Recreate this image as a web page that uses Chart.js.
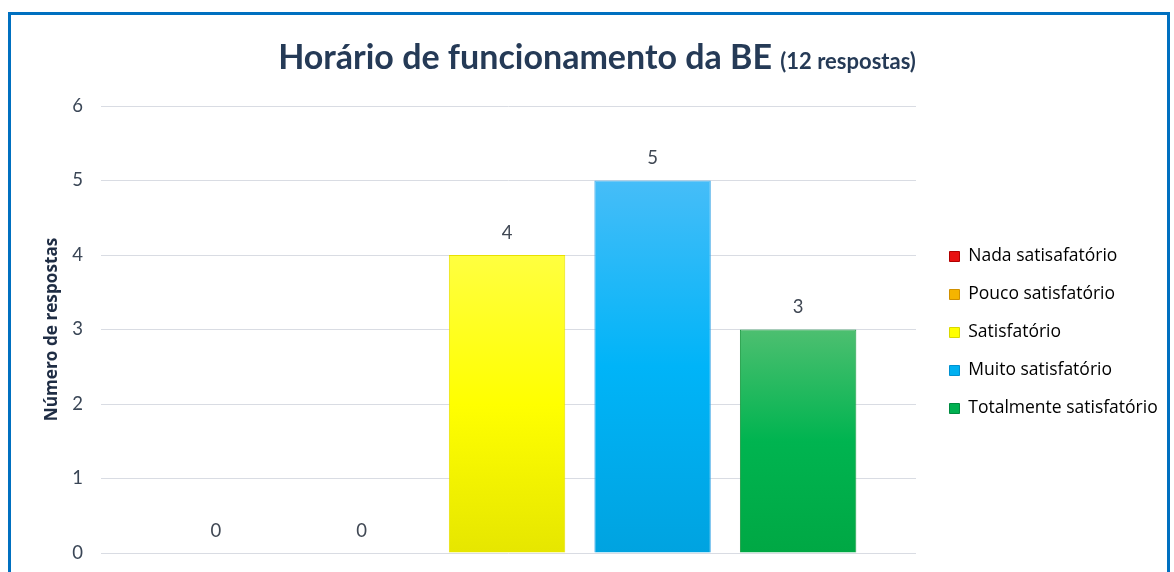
<!DOCTYPE html>
<html>
<head>
<meta charset="utf-8">
<script src="https://cdn.jsdelivr.net/npm/chart.js@4.4.1/dist/chart.umd.min.js"></script>
<style>
  html, body { margin: 0; padding: 0; background: #fff; overflow: hidden; }
  #frame { position: absolute; left: 8px; top: 12px; width: 1162px; height: 600px; border: 3px solid #0070c0; box-sizing: border-box; }
  #wrap { position: absolute; left: 0; top: 0; width: 1174px; height: 572px; }
</style>
</head>
<body>
<div id="frame"></div>
<div id="wrap"><canvas id="myChart" width="1174" height="572"></canvas></div>
<script>
var categories = ["Nada satisafatório", "Pouco satisfatório", "Satisfatório", "Muito satisfatório", "Totalmente satisfatório"];
var respostas = [0, 0, 4, 5, 3];
var yTicks = [0, 1, 2, 3, 4, 5, 6];
var titleMain = "Horário de funcionamento da BE";
var titleSub = "(12 respostas)";

// legend colours and bar gradients (top, middle, bottom)
var legendColors = ["#e81010", "#f5b400", "#ffff00", "#00b0f0", "#00b050"];
var legendBorders = ["#b00000", "#d09000", "#d8d800", "#0090d0", "#008a40"];
var gradTop = ["#ff4040", "#ffc840", "#ffff40", "#46bdf8", "#4dbf70"];
var gradMid = ["#ff0000", "#ffb800", "#ffff00", "#00b4f8", "#00b450"];
var gradBot = ["#e00000", "#e0a000", "#e6e600", "#00a3e0", "#00a844"];
var barBorders = ["#d00000", "#d09000", "#e8e000", "#3da8e8", "#1a9a40"];

var barFill = function(context) {
    var chart = context.chart;
    var i = context.dataIndex;
    var y = chart.scales.y;
    if (!y || y.top === undefined) return legendColors[i];
    var top = y.getPixelForValue(respostas[i]);
    var bottom = y.getPixelForValue(0);
    if (bottom - top < 1) return legendColors[i];
    var g = chart.ctx.createLinearGradient(0, top, 0, bottom);
    g.addColorStop(0, gradTop[i]);
    g.addColorStop(0.5, gradMid[i]);
    g.addColorStop(1, gradBot[i]);
    return g;
};

var titlePlugin = {
    id: 'titleTwoFonts',
    afterDraw: function(chart) {
        var ctx = chart.ctx;
        ctx.save();
        ctx.fillStyle = "#253a56";
        ctx.textBaseline = "alphabetic";
        ctx.font = "bold 34px Lato";
        var w1 = ctx.measureText(titleMain + " ").width;
        ctx.font = "bold 22px Lato";
        var w2 = ctx.measureText(titleSub).width;
        var x = 597 - (w1 + w2) / 2;
        ctx.font = "bold 34px Lato";
        ctx.fillText(titleMain + " ", x, 69);
        ctx.font = "bold 22px Lato";
        ctx.fillText(titleSub, x + w1, 69);
        ctx.restore();
    }
};

var valueLabels = {
    id: 'valueLabels',
    afterDatasetsDraw: function(chart) {
        var ctx = chart.ctx;
        var meta = chart.getDatasetMeta(0);
        ctx.save();
        ctx.fillStyle = "#404854";
        ctx.font = "18.5px Lato";
        ctx.textAlign = "center";
        ctx.textBaseline = "middle";
        meta.data.forEach(function(bar, i) {
            ctx.fillText(String(respostas[i]), bar.x, bar.y - 22);
        });
        ctx.restore();
    }
};

var legendGap = {
    id: 'legendGap',
    beforeInit: function(chart) {
        var fit = chart.legend.fit;
        chart.legend.fit = function() {
            fit.bind(chart.legend)();
            this.width = 254;
        };
    },
    afterLayout: function(chart) {
        chart.legend.left += 13;
        chart.legend.top += 3;
        chart.legend.bottom += 3;
    }
};

var points = respostas.map(function(v, i) { return { x: i, y: v }; });

var config = {
    type: 'bar',
    data: {
        labels: categories,
        datasets: [{
            label: "Respostas",
            data: points,
            backgroundColor: barFill,
            borderColor: barBorders,
            borderWidth: 1,
            categoryPercentage: 0.8,
            barPercentage: 1
        }]
    },
    options: {
        responsive: false,
        animation: false,
        layout: {
            padding: { top: 106, bottom: 19, left: 0, right: 4 }
        },
        plugins: {
            title: { display: false },
            tooltip: { enabled: false },
            legend: {
                position: 'right',
                labels: {
                    color: "#262f3d",
                    font: { family: "Open Sans", size: 17.5 },
                    boxWidth: 10,
                    boxHeight: 10,
                    padding: 20.5,
                    generateLabels: function(chart) {
                        return categories.map(function(c, i) {
                            return {
                                text: c,
                                fillStyle: legendColors[i],
                                strokeStyle: legendBorders[i],
                                lineWidth: 1,
                                hidden: false,
                                index: i,
                                datasetIndex: 0
                            };
                        });
                    }
                }
            }
        },
        scales: {
            x: {
                type: 'linear',
                display: false,
                offset: false,
                min: -0.79,
                max: 4.81,
                afterBuildTicks: function(scale) {
                    scale.ticks = categories.map(function(c, i) { return { value: i }; });
                },
                grid: { display: false }
            },
            y: {
                min: 0,
                max: 6,
                afterFit: function(scale) { scale.width = 101; },
                afterBuildTicks: function(scale) {
                    scale.ticks = yTicks.map(function(v) { return { value: v }; });
                },
                border: { display: false },
                grid: { color: "#d9dce3", lineWidth: 1, drawTicks: true, tickLength: 18, tickColor: "rgba(0,0,0,0)" },
                ticks: {
                    color: "#3a4656",
                    font: { family: "Lato", size: 18.5 },
                    padding: 0
                },
                title: {
                    display: true,
                    text: "Número de respostas",
                    color: "#1f2d44",
                    font: { family: "Open Sans", size: 17.2, weight: "bold" },
                    padding: { top: 42, bottom: 0 }
                }
            }
        }
    },
    plugins: [titlePlugin, valueLabels, legendGap]
};

var ctx = document.getElementById("myChart").getContext("2d");
window.myBar = new Chart(ctx, config);
</script>
</body>
</html>
